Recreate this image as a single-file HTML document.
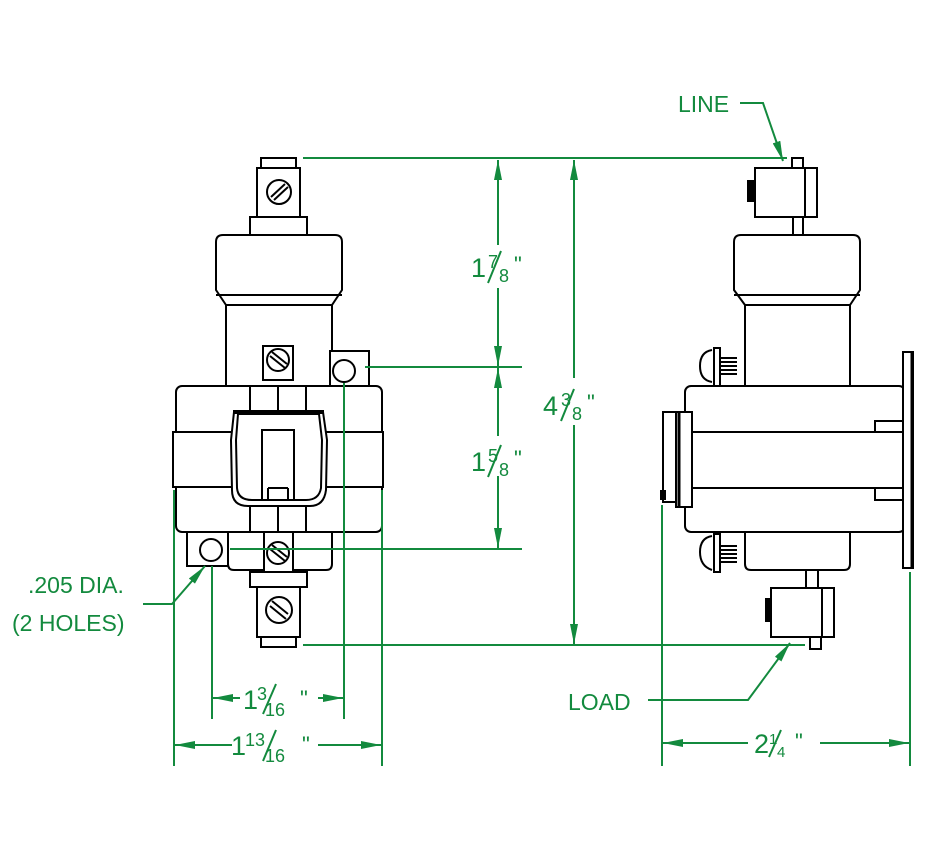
<!DOCTYPE html>
<html><head><meta charset="utf-8"><style>
html,body{margin:0;padding:0;background:#fff}
svg{display:block}
.k{fill:none;stroke:#000;stroke-width:2}
.kf{fill:#fff;stroke:#000;stroke-width:2}
.g{fill:none;stroke:#138a3e;stroke-width:2}
text{font-family:"Liberation Sans",sans-serif;fill:#138a3e}
</style></head><body>
<svg width="931" height="864" viewBox="0 0 931 864" xmlns="http://www.w3.org/2000/svg">
<defs>
<marker id="a" viewBox="0 0 20 8" refX="20" refY="4" markerWidth="20" markerHeight="8" markerUnits="userSpaceOnUse" orient="auto-start-reverse"><path d="M0,0 L20,4 L0,8 Z" fill="#138a3e"/></marker>
</defs>

<!-- ===== LEFT VIEW ===== -->
<rect class="kf" x="261" y="158" width="35" height="10"/>
<rect class="kf" x="257" y="168" width="43" height="49"/>
<circle class="k" cx="279" cy="192" r="12"/><path d="M271,197 L285,184 M274,200 L288,187" class="k" stroke-width="1.8"/>
<rect class="kf" x="250" y="217" width="57" height="18"/>
<path class="kf" d="M226,305 L216,290 L216,242 Q216,235 223,235 L335,235 Q342,235 342,242 L342,290 L332,305 Z"/>
<line class="k" x1="216" y1="295" x2="342" y2="295"/>
<rect class="kf" x="226" y="305" width="106" height="81"/>
<rect class="kf" x="330" y="351" width="39" height="35"/>
<circle class="k" cx="344" cy="371" r="11"/>
<rect class="kf" x="263" y="346" width="30" height="34"/>
<circle class="k" cx="278" cy="360" r="11"/><path d="M270,356 L285,368 M272,352 L287,364" class="k" stroke-width="1.8"/>
<rect class="kf" x="176" y="386" width="206" height="146" rx="6"/>
<rect class="kf" x="173" y="432" width="210" height="55"/>
<line class="k" x1="250" y1="386" x2="250" y2="410"/><line class="k" x1="278" y1="386" x2="278" y2="410"/><line class="k" x1="306" y1="386" x2="306" y2="410"/>
<line class="k" x1="250" y1="507" x2="250" y2="532"/><line class="k" x1="278" y1="507" x2="278" y2="532"/><line class="k" x1="306" y1="507" x2="306" y2="532"/>
<path class="kf" d="M234,412 L323,412 L327,440 L326,490 Q324,506 310,506 L248,506 Q232,506 232,490 L231,440 Z"/>
<path class="k" d="M238,414 L319,414 L322,440 L321,488 Q319,500 306,500 L252,500 Q238,500 237,488 L236,440 Z"/>
<line x1="233" y1="412" x2="324" y2="412" stroke="#000" stroke-width="4"/>
<rect class="k" x="262" y="430" width="32" height="70"/>
<line class="k" x1="268" y1="488" x2="268" y2="500"/><line class="k" x1="288" y1="488" x2="288" y2="500"/><line class="k" x1="268" y1="488" x2="288" y2="488"/>
<rect class="kf" x="187" y="532" width="41" height="34"/>
<circle class="k" cx="211" cy="550" r="11"/>
<path class="kf" d="M228,532 L332,532 L332,564 Q332,570 326,570 L234,570 Q228,570 228,564 Z"/>
<rect class="kf" x="264" y="532" width="29" height="40"/>
<circle class="k" cx="278" cy="553" r="11"/><path d="M270,549 L285,561 M272,545 L287,557" class="k" stroke-width="1.8"/>
<rect class="kf" x="250" y="572" width="57" height="15"/>
<rect class="kf" x="257" y="587" width="43" height="50"/>
<circle class="k" cx="279" cy="610" r="13"/><path d="M270,606 L286,619 M272,601 L288,614" class="k" stroke-width="1.8"/>
<rect class="kf" x="261" y="637" width="35" height="10"/>

<!-- ===== RIGHT VIEW ===== -->
<rect class="kf" x="792" y="158" width="11" height="10"/>
<rect class="kf" x="755" y="168" width="62" height="49"/>
<line class="k" x1="805" y1="168" x2="805" y2="217"/>
<rect x="747" y="180" width="8" height="22" fill="#000"/>
<rect class="kf" x="793" y="217" width="10" height="18"/>
<path class="kf" d="M745,305 L734,290 L734,242 Q734,235 741,235 L853,235 Q860,235 860,242 L860,290 L850,305 Z"/>
<line class="k" x1="734" y1="295" x2="860" y2="295"/>
<rect class="kf" x="745" y="305" width="105" height="81"/>
<rect class="kf" x="714" y="348" width="6" height="38"/>
<path class="k" d="M712,350 Q700,352 700,366 Q700,380 712,382"/>
<path d="M720,358 L737,358 M720,362 L737,362 M720,366 L737,366 M720,370 L737,370 M720,374 L737,374" stroke="#000" stroke-width="2"/>
<rect class="kf" x="685" y="386" width="220" height="146" rx="6"/>
<line class="k" x1="685" y1="432" x2="905" y2="432"/><line class="k" x1="685" y1="488" x2="905" y2="488"/>
<rect class="kf" x="875" y="421" width="30" height="11"/><rect class="kf" x="875" y="488" width="30" height="12"/>
<rect class="kf" x="663" y="412" width="15" height="90"/>
<rect class="kf" x="676" y="412" width="16" height="95"/>
<line x1="679" y1="412" x2="679" y2="507" stroke="#000" stroke-width="3"/>
<rect x="660" y="490" width="6" height="10" fill="#000"/>
<rect class="kf" x="903" y="352" width="10" height="216"/>
<line x1="912" y1="352" x2="912" y2="568" stroke="#000" stroke-width="3"/>
<path class="kf" d="M745,532 L850,532 L850,564 Q850,570 844,570 L751,570 Q745,570 745,564 Z"/>
<rect class="kf" x="714" y="534" width="6" height="38"/>
<path class="k" d="M712,536 Q700,538 700,552 Q700,566 712,570"/>
<path d="M720,546 L737,546 M720,550 L737,550 M720,554 L737,554 M720,558 L737,558 M720,562 L737,562" stroke="#000" stroke-width="2"/>
<rect class="kf" x="806" y="570" width="12" height="18"/>
<rect class="kf" x="771" y="588" width="63" height="49"/>
<line class="k" x1="822" y1="588" x2="822" y2="637"/>
<rect x="765" y="598" width="7" height="24" fill="#000"/>
<rect class="kf" x="810" y="637" width="11" height="12"/>

<!-- ===== DIMENSIONS ===== -->
<line class="g" x1="303" y1="158" x2="787" y2="158"/>
<line class="g" x1="365" y1="367" x2="522" y2="367"/>
<line class="g" x1="230" y1="549" x2="522" y2="549"/>
<line class="g" x1="303" y1="645" x2="805" y2="645"/>
<line class="g" x1="498" y1="245" x2="498" y2="160" marker-end="url(#a)"/>
<line class="g" x1="498" y1="288" x2="498" y2="366" marker-end="url(#a)"/>
<line class="g" x1="498" y1="436" x2="498" y2="368" marker-end="url(#a)"/>
<line class="g" x1="498" y1="476" x2="498" y2="548" marker-end="url(#a)"/>
<line class="g" x1="574" y1="378" x2="574" y2="160" marker-end="url(#a)"/>
<line class="g" x1="574" y1="425" x2="574" y2="644" marker-end="url(#a)"/>
<line class="g" x1="174" y1="490" x2="174" y2="766"/>
<line class="g" x1="212" y1="566" x2="212" y2="719"/>
<line class="g" x1="344" y1="383" x2="344" y2="719"/>
<line class="g" x1="382" y1="490" x2="382" y2="766"/>
<line class="g" x1="662" y1="505" x2="662" y2="766"/>
<line class="g" x1="910" y1="572" x2="910" y2="766"/>
<line class="g" x1="240" y1="698" x2="213" y2="698" marker-end="url(#a)"/>
<line class="g" x1="318" y1="698" x2="343" y2="698" marker-end="url(#a)"/>
<line class="g" x1="232" y1="745" x2="175" y2="745" marker-end="url(#a)"/>
<line class="g" x1="318" y1="745" x2="381" y2="745" marker-end="url(#a)"/>
<line class="g" x1="748" y1="743" x2="663" y2="743" marker-end="url(#a)"/>
<line class="g" x1="820" y1="743" x2="909" y2="743" marker-end="url(#a)"/>
<polyline class="g" points="740,103 763,103 783,161" marker-end="url(#a)"/>
<polyline class="g" points="648,700 748,700 790,643" marker-end="url(#a)"/>
<polyline class="g" points="143,604 172,604 205,566" marker-end="url(#a)"/>

<!-- ===== TEXT ===== -->
<text x="678" y="112" font-size="23">LINE</text>
<text x="568" y="710" font-size="23">LOAD</text>
<text x="28" y="593" font-size="23">.205 DIA.</text>
<text x="12" y="631" font-size="23">(2 HOLES)</text>

<g font-size="27">
<text x="471" y="277">1</text><text x="488" y="268" font-size="18">7</text><line class="g" x1="488" y1="283" x2="501" y2="251"/><text x="499" y="282" font-size="18">8</text><text x="514" y="272" font-size="22">"</text>
<text x="471" y="471">1</text><text x="488" y="462" font-size="18">5</text><line class="g" x1="488" y1="477" x2="501" y2="445"/><text x="499" y="476" font-size="18">8</text><text x="514" y="466" font-size="22">"</text>
<text x="543" y="415">4</text><text x="561" y="406" font-size="18">3</text><line class="g" x1="561" y1="421" x2="574" y2="389"/><text x="572" y="420" font-size="18">8</text><text x="587" y="410" font-size="22">"</text>
<text x="243" y="709">1</text><text x="257" y="700" font-size="18">3</text><line class="g" x1="263" y1="714" x2="276" y2="684"/><text x="265" y="716" font-size="18">16</text><text x="300" y="706" font-size="22">"</text>
<text x="231" y="755">1</text><text x="245" y="746" font-size="18">13</text><line class="g" x1="263" y1="761" x2="276" y2="730"/><text x="265" y="762" font-size="18">16</text><text x="302" y="752" font-size="22">"</text>
<text x="754" y="753">2</text><text x="769" y="744" font-size="15">1</text><line class="g" x1="769" y1="757" x2="781" y2="730"/><text x="777" y="757" font-size="15">4</text><text x="795" y="749" font-size="22">"</text>
</g>
</svg>
</body></html>
